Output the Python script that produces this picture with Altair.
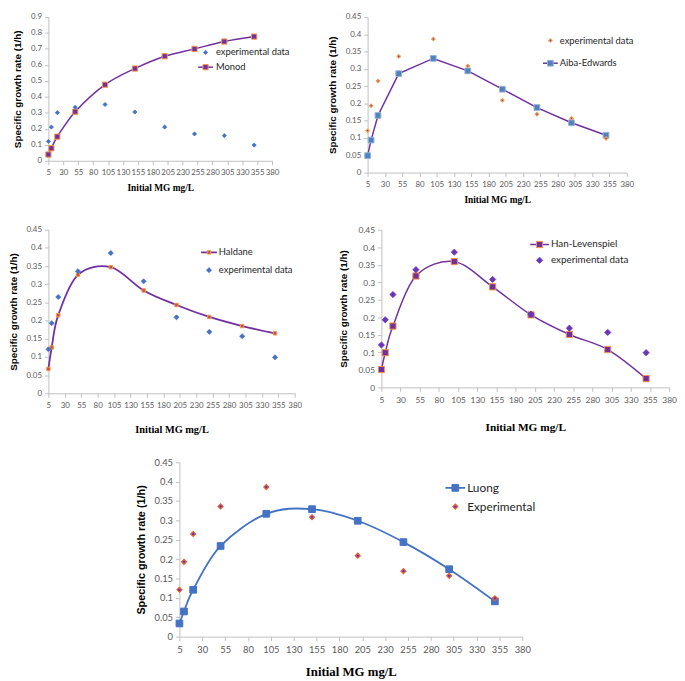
import altair as alt
import pandas as pd

# ---- data ----
conc = [5, 10, 20, 50, 100, 150, 200, 250, 300, 350]
exp_panel1 = [0.121, 0.211, 0.301, 0.335, 0.352, 0.305, 0.211, 0.168, 0.157, 0.098]
experimental = [0.121, 0.193, 0.265, 0.336, 0.386, 0.308, 0.209, 0.169, 0.157, 0.099]
monod = [0.039, 0.078, 0.151, 0.307, 0.476, 0.577, 0.654, 0.700, 0.746, 0.777]
aiba_edwards = [0.049, 0.094, 0.165, 0.286, 0.330, 0.294, 0.241, 0.188, 0.144, 0.108]
haldane = [0.067, 0.126, 0.215, 0.326, 0.347, 0.283, 0.243, 0.210, 0.185, 0.165]
han_levenspiel = [0.051, 0.099, 0.175, 0.318, 0.359, 0.287, 0.207, 0.151, 0.108, 0.025]
luong = [0.034, 0.065, 0.121, 0.234, 0.317, 0.329, 0.299, 0.244, 0.174, 0.091]

x_ticks = [5, 30, 55, 80, 105, 130, 155, 180, 205, 230, 255, 280, 305, 330, 355, 380]
y_ticks_wide = [0, 0.1, 0.2, 0.3, 0.4, 0.5, 0.6, 0.7, 0.8, 0.9]
y_ticks = [0, 0.05, 0.1, 0.15, 0.2, 0.25, 0.3, 0.35, 0.4, 0.45]

AX = "#BFBFBF"
LBL = "#595959"
PURPLE = "#7030A0"
BLUE = "#4472C4"
ORANGE = "#F79646"

one = pd.DataFrame({"k": [0]})


def panel(model_vals, exp_vals, model_name, exp_name, w, h, ymax, yvals, st):
    df = pd.DataFrame({"conc": conc, "model": model_vals, "exp": exp_vals})
    xax = alt.Axis(values=x_ticks, title="Initial MG mg/L", titleFont="Liberation Serif",
                   titleFontWeight="bold", titleFontSize=st["xt"], titleColor="#000000",
                   labelFont="Lato", labelFontSize=st["lf"], labelColor=LBL, labelFlush=False,
                   domainColor=AX, tickColor=AX, tickSize=4, grid=False,
                   labelPadding=4, titlePadding=st.get("xtp", 6))
    yax = alt.Axis(values=yvals, format="~g", title="Specific growth rate (1/h)",
                   titleFont="Liberation Sans", titleFontWeight="bold", titleFontSize=st["yt"],
                   titleColor="#000000", labelFont="Lato", labelFontSize=st["lf"], labelColor=LBL,
                   domainColor=AX, tickColor=AX, tickSize=4, grid=False, labelPadding=3,
                   titlePadding=st.get("ytp", 8))
    xs = alt.Scale(domain=[5, 380], nice=False, zero=False)
    ys = alt.Scale(domain=[0, ymax], nice=False)
    base = alt.Chart(df)
    line = base.mark_line(color=st["lc"], strokeWidth=st["lw"], interpolate=st["interp"]).encode(
        x=alt.X("conc:Q", scale=xs, axis=xax), y=alt.Y("model:Q", scale=ys, axis=yax))
    mpts = base.mark_point(shape="square", filled=True, fill=st["mf"], stroke=st["ms"],
                           strokeWidth=1, size=st["msz"], opacity=1).encode(
        x=alt.X("conc:Q", scale=xs, axis=xax), y=alt.Y("model:Q", scale=ys, axis=yax))
    epts = base.mark_point(shape="diamond", filled=True, fill=st["ef"], stroke=st["es"],
                           strokeWidth=st.get("esw", 0.8), size=st["esz"], opacity=1).encode(
        x=alt.X("conc:Q", scale=xs, axis=xax), y=alt.Y("exp:Q", scale=ys, axis=yax))

    x1, x2, ym, ye, tx = st["leg"]
    xm = (x1 + x2) / 2
    lg = alt.Chart(one)
    leg_line = lg.mark_rule(color=st["lc"], strokeWidth=st["lw"]).encode(
        x=alt.value(x1), x2=alt.value(x2), y=alt.value(ym))
    leg_mpt = lg.mark_point(shape="square", filled=True, fill=st["mf"], stroke=st["ms"],
                            strokeWidth=1, size=st["msz"], opacity=1).encode(
        x=alt.value(xm), y=alt.value(ym))
    leg_ept = lg.mark_point(shape="diamond", filled=True, fill=st["ef"], stroke=st["es"],
                            strokeWidth=st.get("esw", 0.8), size=st["esz"], opacity=1).encode(
        x=alt.value(xm), y=alt.value(ye))
    tprops = dict(align="left", baseline="middle", font="Lato", fontSize=st["lgf"], color="#262626")
    leg_mt = lg.mark_text(**tprops).encode(x=alt.value(tx), y=alt.value(ym), text=alt.value(model_name))
    leg_et = lg.mark_text(**tprops).encode(x=alt.value(tx), y=alt.value(ye), text=alt.value(exp_name))
    return alt.layer(line, mpts, epts, leg_line, leg_mpt, leg_ept, leg_mt, leg_et).properties(
        width=w, height=h)


p1 = panel(monod, exp_panel1, "Monod", "experimental  data", 227, 146, 0.9, y_ticks_wide,
           dict(xt=9.5, yt=10, lf=8, lc=PURPLE, lw=1.5, interp="cardinal", mf=PURPLE, ms=ORANGE,
                msz=28, ef=BLUE, es=BLUE, esz=18, lgf=9.5, leg=(152, 167, 51, 36, 170)))
p2 = panel(aiba_edwards, experimental, "Aiba-Edwards", "experimental  data", 263, 158, 0.45, y_ticks,
           dict(xt=9.5, yt=10, lf=8, lc=PURPLE, lw=1.5, interp="linear", mf="#4F81BD", ms="#95B3D7",
                msz=34, ef="#7030A0", es="#F0A050", esw=1.2, esz=12, lgf=9.5, leg=(178, 193, 47, 24, 195)))
p3 = panel(haldane, experimental, "Haldane", "experimental  data", 250, 166, 0.45, y_ticks,
           dict(xt=10.5, yt=10, lf=8, lc=PURPLE, lw=1.8, interp="cardinal", mf="#C0504D", ms=ORANGE,
                msz=12, ef=BLUE, es=BLUE, esz=26, lgf=9.5, xtp=16, leg=(155, 171, 23, 41, 173)))
p4 = panel(han_levenspiel, experimental, "Han-Levenspiel", "experimental  data", 292, 160, 0.45, y_ticks,
           dict(xt=11.5, yt=10, lf=8.5, lc=PURPLE, lw=1.5, interp="cardinal", mf=PURPLE, ms=ORANGE,
                msz=40, ef="#6A35B8", es="#6A35B8", esz=40, lgf=10, xtp=18, ytp=10,
                leg=(151, 170, 15, 31, 172)))
p5 = panel(luong, experimental, "Luong", "Experimental", 348, 177, 0.45, y_ticks,
           dict(xt=13, yt=11, lf=9.5, lc=BLUE, lw=1.8, interp="cardinal", mf=BLUE, ms=BLUE,
                msz=46, ef="#7030A0", es="#E0603F", esw=1.3, esz=24, lgf=12, xtp=12,
                leg=(270, 290, 26, 45, 292)))

spacer = alt.Chart(one).mark_point(opacity=0).encode(x=alt.value(0), y=alt.value(0)).properties(
    width=68, height=10)

row1 = alt.hconcat(p1, p2, spacing=35)
row2 = alt.hconcat(p3, p4, spacing=37)
row3 = alt.hconcat(spacer, p5, spacing=20)

chart = alt.vconcat(row1, row2, row3, spacing=22, padding=0).configure_view(stroke=None)

chart.save("out.html", embed_options={"renderer": "svg", "actions": False})
